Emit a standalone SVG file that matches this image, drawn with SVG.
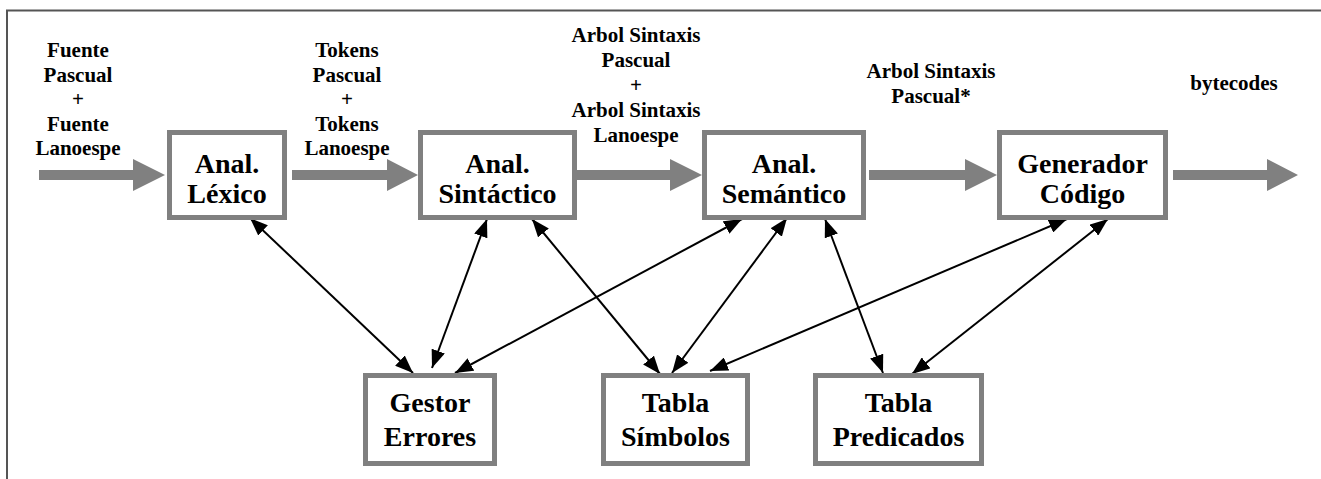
<svg xmlns="http://www.w3.org/2000/svg" width="1321" height="479" viewBox="0 0 1321 479">
<style>
.box{fill:#fff;stroke:#808080;stroke-width:5}
.nt{font-family:"Liberation Serif","Times New Roman",serif;font-weight:bold;font-size:28px;text-anchor:middle;fill:#000}
.lt{font-family:"Liberation Serif","Times New Roman",serif;font-weight:bold;font-size:21px;text-anchor:middle;fill:#000}
.flow{fill:#808080}
.con{stroke:#000;stroke-width:2;fill:none;marker-start:url(#ah);marker-end:url(#ah)}
</style>
<defs>
<marker id="ah" markerUnits="userSpaceOnUse" markerWidth="18" markerHeight="14" refX="18" refY="7" orient="auto-start-reverse" viewBox="0 0 18 14">
<path d="M0,0 L18,7 L0,14 z" fill="#000"/>
</marker>
</defs>
<rect width="1321" height="479" fill="#fff"/>
<path d="M7,479 V10.5 H1321" fill="none" stroke="#555" stroke-width="2"/>

<g id="flows">
<path class="flow" d="M39,170 H133 V159 L165,175 L133,191 V180 H39 z"/>
<path class="flow" d="M292,170 H387 V159 L418,175 L387,191 V180 H292 z"/>
<path class="flow" d="M577,170 H670 V159 L702,175 L670,191 V180 H577 z"/>
<path class="flow" d="M869,170 H965 V159 L997,175 L965,191 V180 H869 z"/>
<path class="flow" d="M1173,170 H1267 V159 L1298,175 L1267,191 V180 H1173 z"/>
</g>

<g id="connectors">
<path class="con" d="M250,218 L413,373"/>
<path class="con" d="M487,219 L432,368"/>
<path class="con" d="M532,219 L660,374"/>
<path class="con" d="M742,219 L455,373"/>
<path class="con" d="M787,218 L672,373"/>
<path class="con" d="M825,219 L883,373"/>
<path class="con" d="M1067,219 L710,371"/>
<path class="con" d="M1108,219 L912,374"/>
</g>

<g id="labels">
<text class="lt" x="78" y="57">Fuente</text>
<text class="lt" x="78" y="81.5">Pascual</text>
<text class="lt" x="78" y="106">+</text>
<text class="lt" x="78" y="130.5">Fuente</text>
<text class="lt" x="78" y="155">Lanoespe</text>
<text class="lt" x="347" y="57">Tokens</text>
<text class="lt" x="347" y="81.5">Pascual</text>
<text class="lt" x="347" y="106">+</text>
<text class="lt" x="347" y="130.5">Tokens</text>
<text class="lt" x="347" y="155">Lanoespe</text>
<text class="lt" x="636" y="42">Arbol Sintaxis</text>
<text class="lt" x="636" y="67">Pascual</text>
<text class="lt" x="636" y="92">+</text>
<text class="lt" x="636" y="117">Arbol Sintaxis</text>
<text class="lt" x="636" y="142">Lanoespe</text>
<text class="lt" x="931" y="78">Arbol Sintaxis</text>
<text class="lt" x="931" y="103">Pascual*</text>
<text class="lt" x="1234" y="90">bytecodes</text>
</g>

<g id="lexico">
<rect class="box" x="169.5" y="132.5" width="115" height="85"/>
<text class="nt" x="227" y="173">Anal.</text>
<text class="nt" x="227" y="203">Léxico</text>
</g>
<g id="sintactico">
<rect class="box" x="420.5" y="132.5" width="154" height="85"/>
<text class="nt" x="497.5" y="173">Anal.</text>
<text class="nt" x="497.5" y="203">Sintáctico</text>
</g>
<g id="semantico">
<rect class="box" x="704.5" y="132.5" width="159" height="85"/>
<text class="nt" x="784" y="173">Anal.</text>
<text class="nt" x="784" y="203">Semántico</text>
</g>
<g id="generador">
<rect class="box" x="999.5" y="132.5" width="166" height="85"/>
<text class="nt" x="1082.5" y="173">Generador</text>
<text class="nt" x="1082.5" y="203">Código</text>
</g>
<g id="gestor">
<rect class="box" x="365.5" y="375.5" width="129" height="88"/>
<text class="nt" x="430" y="412">Gestor</text>
<text class="nt" x="430" y="446">Errores</text>
</g>
<g id="simbolos">
<rect class="box" x="603.5" y="375.5" width="144" height="88"/>
<text class="nt" x="675.5" y="412">Tabla</text>
<text class="nt" x="675.5" y="446">Símbolos</text>
</g>
<g id="predicados">
<rect class="box" x="815.5" y="375.5" width="166" height="88"/>
<text class="nt" x="898.5" y="412">Tabla</text>
<text class="nt" x="898.5" y="446">Predicados</text>
</g>
</svg>
